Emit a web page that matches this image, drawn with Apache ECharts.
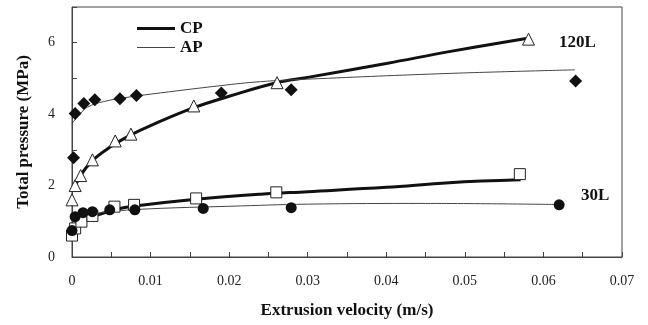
<!DOCTYPE html>
<html>
<head>
<meta charset="utf-8">
<script src="https://cdn.jsdelivr.net/npm/echarts@6/dist/echarts.min.js"></script>
<style>
  html, body { margin: 0; padding: 0; background: #fff; }
  #chart { width: 648px; height: 325px; }
</style>
</head>
<body>
<div id="chart"></div>
<script>
// measured points, 120L
const cp120 = [[0.0000, 1.60], [0.0004, 2.00], [0.0011, 2.28], [0.0026, 2.72], [0.0055, 3.25], [0.0075, 3.44], [0.0155, 4.23], [0.0261, 4.88], [0.0581, 6.10]]
const ap120 = [[0.0002, 2.78], [0.0004, 4.02], [0.0015, 4.30], [0.0029, 4.40], [0.0061, 4.43], [0.0082, 4.52], [0.0190, 4.59], [0.0279, 4.68], [0.0641, 4.93]]
// measured points, 30L
const cp30 = [[0.0000, 0.60], [0.0004, 0.80], [0.0012, 0.99], [0.0026, 1.15], [0.0054, 1.41], [0.0079, 1.46], [0.0158, 1.64], [0.0260, 1.81], [0.0570, 2.32]]
const ap30 = [[0.0000, 0.74], [0.0004, 1.13], [0.0014, 1.24], [0.0026, 1.27], [0.0048, 1.32], [0.0080, 1.32], [0.0167, 1.36], [0.0279, 1.38], [0.0620, 1.46]]
// fitted curves
const cp120Fit = [[0.0002, 1.85], [0.001, 2.25], [0.0026, 2.70], [0.005, 3.10], [0.0075, 3.42], [0.01, 3.68], [0.0155, 4.18], [0.02, 4.50], [0.026, 4.88], [0.03, 5.03], [0.04, 5.42], [0.048, 5.75], [0.0578, 6.12]]
const ap120Fit = [[0.0000, 3.74], [0.001, 4.00], [0.002, 4.20], [0.004, 4.35], [0.007, 4.47], [0.01, 4.56], [0.019, 4.80], [0.024, 4.91], [0.03, 4.98], [0.048, 5.14], [0.064, 5.24]]
const cp30Fit = [[0.0004, 1.08], [0.0026, 1.14], [0.0055, 1.33], [0.008, 1.43], [0.0158, 1.62], [0.024, 1.76], [0.03, 1.83], [0.04, 1.95], [0.048, 2.08], [0.0571, 2.16]]
const ap30Fit = [[0.0000, 0.90], [0.002, 1.15], [0.005, 1.27], [0.01, 1.35], [0.02, 1.42], [0.03, 1.48], [0.045, 1.50], [0.062, 1.47]]

const font = '"Liberation Serif", "Times New Roman", serif'

let chart = echarts.init(document.getElementById('chart'))

function fit(name, data, width, color) {
  return {
    name: name,
    type: 'line',
    data: data,
    smooth: 0.4,
    showSymbol: false,
    symbol: 'none',
    silent: true,
    itemStyle: { color: color },
    lineStyle: { color: color, width: width },
    z: 2
  }
}

function dots(data, symbol, size, filled) {
  return {
    type: 'scatter',
    data: data,
    symbol: symbol,
    symbolSize: size,
    itemStyle: filled
      ? { color: '#111', borderColor: '#111', borderWidth: 0, opacity: 1 }
      : { color: '#fff', borderColor: '#222', borderWidth: 1, opacity: 1 },
    z: 3
  }
}

chart.setOption({
  animation: false,
  grid: {
    left: 72,
    right: 26,
    top: 7,
    bottom: 68,
    show: true,
    borderColor: '#444',
    borderWidth: 1
  },
  legend: {
    data: [
      { name: 'CP', icon: 'path://M0,0H40V3H0Z' },
      { name: 'AP', icon: 'path://M0,1H40V2H0Z' }
    ],
    orient: 'vertical',
    left: 132,
    top: 15,
    itemWidth: 38,
    itemHeight: 10,
    itemGap: 2,
    textStyle: { fontFamily: font, fontWeight: 'bold', fontSize: 17, color: '#111' }
  },
  xAxis: {
    type: 'value',
    min: 0,
    max: 0.07,
    interval: 0.005,
    name: 'Extrusion velocity (m/s)',
    nameLocation: 'middle',
    nameGap: 45,
    nameTextStyle: { fontFamily: font, fontWeight: 'bold', fontSize: 17, color: '#111' },
    axisLine: { lineStyle: { color: '#444' } },
    axisTick: { inside: true, length: 5, lineStyle: { color: '#444' } },
    axisLabel: {
      fontFamily: font,
      fontSize: 14,
      color: '#222',
      margin: 17,
      formatter: function (v) {
        let k = Math.round(v * 1000)
        if (k % 10 !== 0) return ''
        return k === 0 ? '0' : (k / 1000).toFixed(2)
      }
    },
    splitLine: { show: false }
  },
  yAxis: {
    type: 'value',
    min: 0,
    max: 7,
    interval: 1,
    name: 'Total pressure (MPa)',
    nameLocation: 'middle',
    nameGap: 40,
    nameTextStyle: { fontFamily: font, fontWeight: 'bold', fontSize: 17, color: '#111' },
    axisLine: { show: true, lineStyle: { color: '#444' } },
    axisTick: { show: true, inside: true, length: 5, lineStyle: { color: '#444' } },
    axisLabel: {
      fontFamily: font,
      fontSize: 14,
      color: '#222',
      margin: 17,
      formatter: function (v) {
        return Math.round(v) % 2 === 0 ? String(Math.round(v)) : ''
      }
    },
    splitLine: { show: false }
  },
  graphic: [
    {
      type: 'text',
      left: 559,
      top: 34,
      style: { text: '120L', font: 'bold 17px ' + font, fill: '#111' }
    },
    {
      type: 'text',
      left: 581,
      top: 187,
      style: { text: '30L', font: 'bold 17px ' + font, fill: '#111' }
    }
  ],
  series: [
    fit('CP', cp120Fit, 3, '#111'),
    fit('AP', ap120Fit, 1, '#444'),
    fit('CP', cp30Fit, 3, '#111'),
    fit('AP', ap30Fit, 1, '#444'),
    dots(cp120, 'triangle', 12, false),
    dots(ap120, 'diamond', 13, true),
    dots(cp30, 'rect', 11, false),
    dots(ap30, 'circle', 11, true)
  ]
})
</script>
</body>
</html>
